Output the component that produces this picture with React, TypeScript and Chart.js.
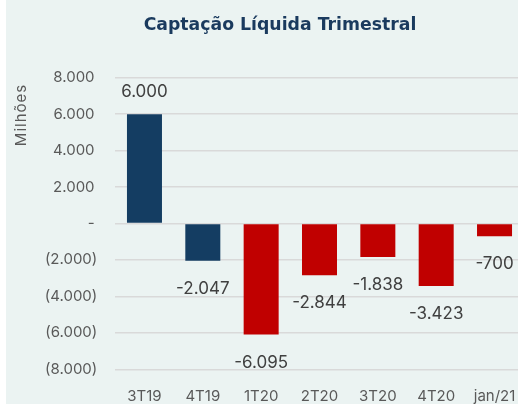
import React, { useEffect, useRef } from "react";
import { Chart, registerables } from "chart.js";

Chart.register(...registerables);

const chartTitle = "Captação Líquida Trimestral";
const yAxisTitle = "Milhões";
const categories = ["3T19", "4T19", "1T20", "2T20", "3T20", "4T20", "jan/21"];
const values = [6000, -2047, -6095, -2844, -1838, -3423, -700];
const barColors = ["#143D62", "#143D62", "#C00000", "#C00000", "#C00000", "#C00000", "#C00000"];
const yMin = -8000;
const yMax = 8000;
const yStep = 2000;

const FONT = "Inter";

function fmt(n: number): string {
  return Math.abs(Math.round(n))
    .toString()
    .replace(/\B(?=(\d{3})+(?!\d))/g, ".");
}

const dataLabelPlugin = {
  id: "dataLabels",
  afterDatasetsDraw(chart: any) {
    const ctx = chart.ctx;
    const meta = chart.getDatasetMeta(0);
    ctx.save();
    ctx.font = `400 17px ${FONT}`;
    ctx.fillStyle = "#404040";
    ctx.textAlign = "center";
    ctx.textBaseline = "middle";
    meta.data.forEach((bar: any, i: number) => {
      const v = values[i];
      const txt = (v < 0 ? "-" : "") + fmt(v);
      const y = v >= 0 ? bar.y - 22 : bar.y + 28;
      ctx.fillText(txt, bar.x, y);
    });
    ctx.restore();
  },
};

const yTitlePlugin = {
  id: "yTitle",
  afterDraw(chart: any) {
    const ctx = chart.ctx;
    ctx.save();
    ctx.translate(15, 115);
    ctx.rotate(-Math.PI / 2);
    ctx.font = `400 15px ${FONT}`;
    const hasLS = "letterSpacing" in ctx;
    if (hasLS) (ctx as any).letterSpacing = "1px";
    ctx.fillStyle = "#595959";
    ctx.textAlign = "center";
    ctx.textBaseline = "middle";
    ctx.fillText(yAxisTitle, 0, 0);
    if (hasLS) (ctx as any).letterSpacing = "0px";
    ctx.restore();
  },
};

export default function App() {
  const ref = useRef<HTMLCanvasElement | null>(null);

  useEffect(() => {
    if (!ref.current) return;
    const chart = new Chart(ref.current, {
      type: "bar",
      data: {
        labels: categories,
        datasets: [
          {
            data: values,
            backgroundColor: barColors,
            borderWidth: 0,
            barPercentage: 0.6,
            categoryPercentage: 1.0,
          },
        ],
      },
      options: {
        responsive: false,
        animation: false,
        devicePixelRatio: 1,
        layout: { padding: { left: 0, right: 30.3, top: 77.7, bottom: 0 } },
        plugins: {
          legend: { display: false },
          tooltip: { enabled: false },
          title: { display: false },
        },
        scales: {
          x: {
            grid: { display: false, drawTicks: false },
            border: { display: false },
            ticks: {
              padding: 17.7,
              color: "#595959",
              font: { family: FONT, size: 15 },
              maxRotation: 0,
              autoSkip: false,
            },
            afterFit(scale: any) {
              scale.height = 34.7;
            },
          },
          y: {
            min: yMin,
            max: yMax,
            grid: { color: "#D9D9D9", lineWidth: 1.5, drawTicks: false },
            border: { display: false },
            ticks: {
              stepSize: yStep,
              padding: 18,
              color: "#595959",
              font: { family: FONT, size: 15 },
              callback: (v: any) => {
                const n = Number(v);
                if (n === 0) return "-\u2009";
                if (n < 0) return `(${fmt(n)})`;
                return fmt(n) + "\u2009";
              },
            },
            afterFit(scale: any) {
              scale.width = 109.3;
            },
          },
        },
      },
      plugins: [dataLabelPlugin, yTitlePlugin],
    });
    return () => chart.destroy();
  }, []);

  return (
    <div
      style={{
        position: "fixed",
        left: 6,
        top: 0,
        width: 512,
        height: 404,
        overflow: "hidden",
        background: "#EBF3F2",
      }}
    >
      <canvas
        ref={ref}
        width={548}
        height={404}
        style={{ position: "absolute", left: 0, top: 0, width: 548, height: 404, display: "block" }}
      />
      <div
        style={{
          position: "absolute",
          left: 0,
          top: 14,
          width: 548,
          textAlign: "center",
          fontFamily: "'DejaVu Sans', sans-serif",
          fontWeight: 700,
          fontSize: 17.3,
          lineHeight: "21px",
          color: "#1A3A5E",
        }}
      >
        {chartTitle}
      </div>
    </div>
  );
}
